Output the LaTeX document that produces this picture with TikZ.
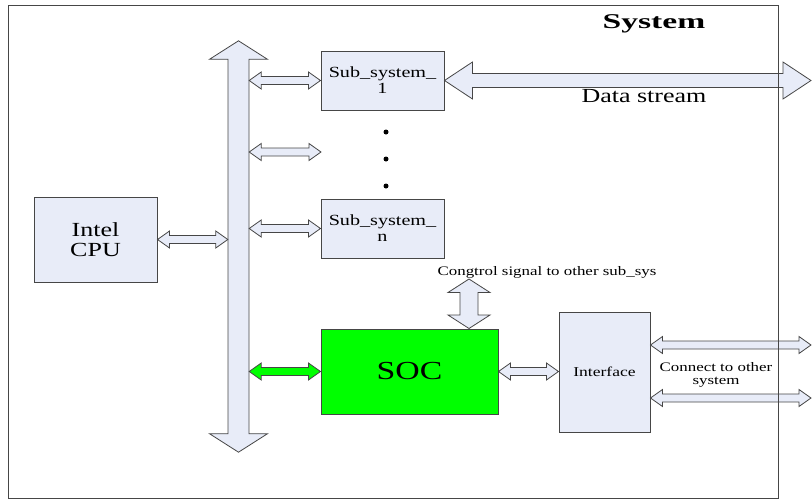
\documentclass[tikz,border=0pt]{standalone}
\usepackage{fontspec}
\setmainfont{Liberation Serif}[FakeStretch=1.3]
\newfontfamily\sysfont{Liberation Serif}[FakeStretch=1.6]
\usepackage{xcolor}
\usepackage{tikz}
\usetikzlibrary{calc}

\definecolor{boxblue}{RGB}{232,236,248}
\definecolor{socgreen}{RGB}{0,255,0}
\definecolor{edgegray}{RGB}{70,70,70}

% block arrows: style, from, to, shaft half, head half, head length
\newcommand{\harr}[6]{%
  \path[#1] let \p1=#2, \p2=#3 in
    (\x1,\y1) -- (\x1+#6,\y1+#5) -- (\x1+#6,\y1+#4) -- (\x2-#6,\y1+#4) -- (\x2-#6,\y1+#5)
    -- (\x2,\y1) -- (\x2-#6,\y1-#5) -- (\x2-#6,\y1-#4) -- (\x1+#6,\y1-#4) -- (\x1+#6,\y1-#5) -- cycle;}
\newcommand{\varr}[6]{%
  \path[#1] let \p1=#2, \p2=#3 in
    (\x1,\y1) -- (\x1+#5,\y1-#6) -- (\x1+#4,\y1-#6) -- (\x1+#4,\y2+#6) -- (\x1+#5,\y2+#6)
    -- (\x1,\y2) -- (\x1-#5,\y2+#6) -- (\x1-#4,\y2+#6) -- (\x1-#4,\y1-#6) -- (\x1-#5,\y1-#6) -- cycle;}

\begin{document}
\begin{tikzpicture}[x=1pt, y=-1pt,
    box/.style={rectangle, draw=edgegray, line width=1pt, fill=boxblue,
                align=center, inner sep=0pt},
    blk/.style={draw=edgegray, line width=0.8pt, fill=boxblue, line join=miter},
    gblk/.style={blk, fill=socgreen},
    lbl/.style={align=center, inner sep=0pt},
    dot/.style={circle, fill=black, inner sep=0pt, minimum size=5pt}
  ]
  \useasboundingbox (0,0) rectangle (812,501);

  % Title
  \node[lbl, font=\sysfont\bfseries\fontsize{21}{22}\selectfont] (title) at (654,24) {System};

  % Blocks
  \node[box, minimum width=123, minimum height=85, font=\fontsize{20}{20}\selectfont] (cpu) at (95.5,239.5) {Intel\\CPU};
  \node[box, minimum width=123, minimum height=59, font=\fontsize{15.5}{16}\selectfont] (sub1) at (382.5,80.5) {Sub\_system\_\\1};
  \node[box, minimum width=123, minimum height=59, font=\fontsize{15.5}{16}\selectfont] (subn) at (382.5,228.5) {Sub\_system\_\\n};
  \node[box, fill=socgreen, minimum width=177, minimum height=85, font=\fontsize{26}{28}\selectfont] (soc) at (409.5,371.5) {SOC};
  \node[box, minimum width=91, minimum height=120, font=\fontsize{13.5}{14}\selectfont] (iface) at (604.5,372) {Interface};

  % Dots between sub systems
  \node[dot] (d1) at (386,132) {};
  \node[dot] (d2) at (386,159) {};
  \node[dot] (d3) at (386,186) {};

  % Bus
  \node[inner sep=0pt, minimum width=21, minimum height=411] (bus) at (238.5,246.5) {};
  \varr{blk}{(bus.north)}{(bus.south)}{10.5pt}{29pt}{18.5pt}

  % Bus connections
  \coordinate (midend) at (321,152);
  \harr{blk}{(cpu.east)}{(bus.west |- cpu.east)}{4pt}{8.5pt}{12pt}
  \harr{blk}{(bus.east |- sub1.west)}{(sub1.west)}{4pt}{8.5pt}{12pt}
  \harr{blk}{(bus.east |- midend)}{(midend)}{4pt}{8.5pt}{12pt}
  \harr{blk}{(bus.east |- subn.west)}{(subn.west)}{4pt}{8.5pt}{12pt}
  \harr{gblk}{(bus.east |- soc.west)}{(soc.west)}{4pt}{8.5pt}{12pt}

  % Data stream
  \coordinate (dsend) at (811,80.5);
  \harr{blk}{(sub1.east)}{(dsend)}{7pt}{18.5pt}{28pt}
  \node[lbl, font=\fontsize{20}{22}\selectfont] (ds) at (644,96) {Data stream};

  % Control signal
  \coordinate (ctl) at (469,279);
  \varr{blk}{(ctl)}{(ctl |- soc.north)}{9pt}{21pt}{13.5pt}
  \node[lbl, font=\fontsize{13}{14}\selectfont] (ctllbl) at (547,272) {Congtrol signal to other sub\_sys};

  % Interface
  \harr{blk}{(soc.east)}{(iface.west)}{4pt}{8.5pt}{12pt}
  \coordinate (out1) at (811,345);
  \coordinate (out2) at (811,398);
  \harr{blk}{(iface.east |- out1)}{(out1)}{4pt}{8.5pt}{12pt}
  \harr{blk}{(iface.east |- out2)}{(out2)}{4pt}{8.5pt}{12pt}
  \node[lbl, font=\fontsize{13}{13}\selectfont] (conn) at (716,374.5) {Connect to other\\system};

  % System frame
  \draw[edgegray, line width=1pt] (8,5) rectangle (778,498);
\end{tikzpicture}
\end{document}
